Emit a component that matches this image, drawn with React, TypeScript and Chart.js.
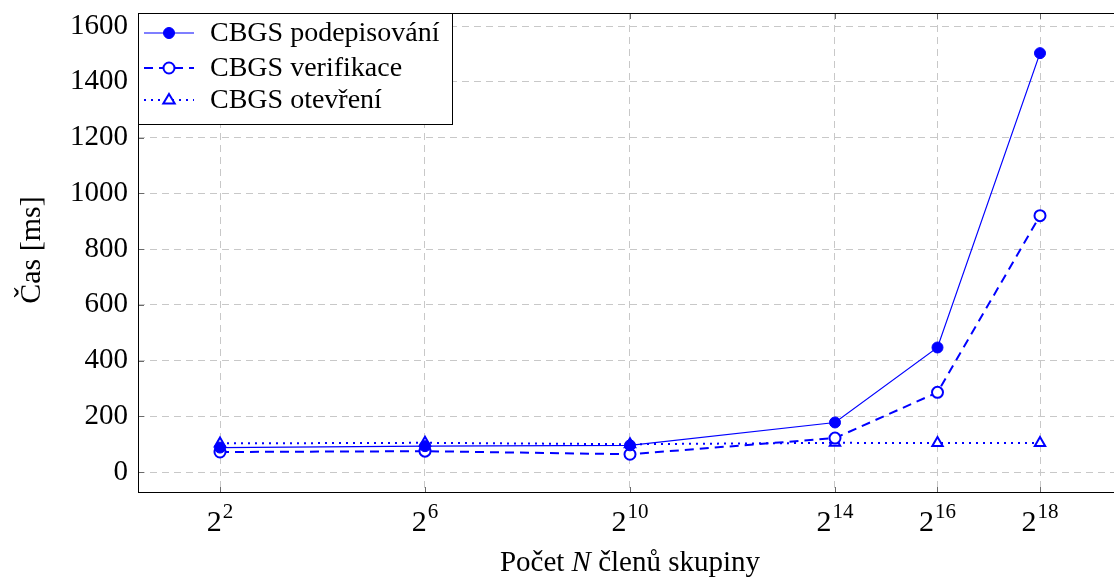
import React, { useEffect, useRef } from "react";
import { Chart, registerables } from "chart.js";

Chart.register(...registerables);

// Data
const xExponents = [2, 6, 10, 14, 16, 18];
const signValues = [88, 93, 96, 178, 447, 1503];
const verifyValues = [72, 75, 64, 122, 286, 920];
const openValues = [103, 105, 100, 105, 104, 104];
const yTicks = [0, 200, 400, 600, 800, 1000, 1200, 1400, 1600];
const seriesNames = ["CBGS podepisování", "CBGS verifikace", "CBGS otevření"];
const xTitleParts = ["Počet ", "N", " členů skupiny"];
const yTitle = "Čas [ms]";

const FONT = "'Liberation Serif', 'DejaVu Serif', serif";
const BLUE = "#0000ff";

const toPts = (vals: number[]) => vals.map((v, i) => ({ x: xExponents[i], y: v }));

const customPlugin = {
  id: "custom",
  afterDraw(chart: any) {
    const { ctx, chartArea } = chart;
    const { left, right, top, bottom } = chartArea;
    const xs = chart.scales.x;
    const ys = chart.scales.y;
    ctx.save();
    // tick marks
    ctx.strokeStyle = "#6a6a6a";
    ctx.lineWidth = 1;
    ctx.setLineDash([]);
    xExponents.forEach((e) => {
      const px = Math.round(xs.getPixelForValue(e)) + 0.5;
      ctx.beginPath();
      ctx.moveTo(px, bottom);
      ctx.lineTo(px, bottom - 6);
      ctx.moveTo(px, top);
      ctx.lineTo(px, top + 6);
      ctx.stroke();
    });
    yTicks.forEach((t) => {
      const py = Math.round(ys.getPixelForValue(t)) + 0.5;
      ctx.beginPath();
      ctx.moveTo(left, py);
      ctx.lineTo(left + 6, py);
      ctx.moveTo(right, py);
      ctx.lineTo(right - 6, py);
      ctx.stroke();
    });
    // box
    ctx.strokeStyle = "#000";
    ctx.strokeRect(left + 0.5, top + 0.5, right - left - 1, bottom - top - 1);

    // x tick labels 2^n
    ctx.fillStyle = "#000";
    ctx.textBaseline = "alphabetic";
    ctx.textAlign = "left";
    xExponents.forEach((e) => {
      const px = xs.getPixelForValue(e);
      ctx.font = `30px ${FONT}`;
      const bw = ctx.measureText("2").width;
      ctx.font = `21px ${FONT}`;
      const sw = ctx.measureText(String(e)).width;
      const x0 = px - (bw + sw + 1) / 2;
      ctx.font = `30px ${FONT}`;
      ctx.fillText("2", x0, 531);
      ctx.font = `21px ${FONT}`;
      ctx.fillText(String(e), x0 + bw + 1, 518);
    });

    // x title
    const fonts = [`29px ${FONT}`, `italic 29px ${FONT}`, `29px ${FONT}`];
    let total = 0;
    const widths = xTitleParts.map((p, i) => {
      ctx.font = fonts[i];
      const w = ctx.measureText(p).width;
      total += w;
      return w;
    });
    let cx = 630 - total / 2;
    xTitleParts.forEach((p, i) => {
      ctx.font = fonts[i];
      ctx.fillText(p, cx, 571);
      cx += widths[i];
    });

    // y title
    ctx.save();
    ctx.translate(40, 250);
    ctx.rotate(-Math.PI / 2);
    ctx.font = `30px ${FONT}`;
    ctx.textAlign = "center";
    ctx.fillText(yTitle, 0, 0);
    ctx.restore();

    // legend
    const lx = left, ly = top, lw = 314, lh = 111;
    ctx.fillStyle = "#fff";
    ctx.fillRect(lx, ly, lw, lh);
    ctx.strokeStyle = "#000";
    ctx.lineWidth = 1;
    ctx.strokeRect(lx + 0.5, ly + 0.5, lw, lh);
    const rows = [20, 55, 87];
    chart.data.datasets.forEach((ds: any, i: number) => {
      const ry = ly + rows[i];
      ctx.strokeStyle = ds.borderColor;
      ctx.lineWidth = ds.borderWidth;
      ctx.setLineDash(ds.borderDash || []);
      ctx.beginPath();
      ctx.moveTo(lx + 6, ry);
      ctx.lineTo(lx + 56, ry);
      ctx.stroke();
      ctx.setLineDash([]);
      const mx = lx + 31;
      ctx.lineWidth = ds.pointBorderWidth;
      ctx.fillStyle = ds.pointBackgroundColor;
      ctx.strokeStyle = ds.pointBorderColor;
      ctx.beginPath();
      if (ds.pointStyle === "triangle") {
        const r = ds.pointRadius;
        ctx.moveTo(mx, ry - r);
        ctx.lineTo(mx + r * 0.95, ry + r * 0.6);
        ctx.lineTo(mx - r * 0.95, ry + r * 0.6);
        ctx.closePath();
      } else {
        ctx.arc(mx, ry, ds.pointRadius, 0, Math.PI * 2);
      }
      ctx.fill();
      ctx.stroke();
      ctx.fillStyle = "#000";
      ctx.font = `28px ${FONT}`;
      ctx.textBaseline = "middle";
      ctx.textAlign = "left";
      ctx.fillText(ds.label, lx + 72, ry + 1);
    });
    ctx.restore();
  },
};

export default function App() {
  const ref = useRef<HTMLCanvasElement>(null);
  useEffect(() => {
    if (!ref.current) return;
    const chart = new Chart(ref.current, {
      type: "line",
      data: {
        datasets: [
          {
            label: seriesNames[0],
            data: toPts(signValues),
            borderColor: BLUE,
            borderWidth: 1.2,
            pointStyle: "circle",
            pointRadius: 5.5,
            pointBackgroundColor: BLUE,
            pointBorderColor: BLUE,
            pointBorderWidth: 1,
          },
          {
            label: seriesNames[1],
            data: toPts(verifyValues),
            borderColor: BLUE,
            borderWidth: 2,
            borderDash: [9, 6],
            pointStyle: "circle",
            pointRadius: 5.5,
            pointBackgroundColor: "#fff",
            pointBorderColor: BLUE,
            pointBorderWidth: 2,
          },
          {
            label: seriesNames[2],
            data: toPts(openValues),
            borderColor: BLUE,
            borderWidth: 2,
            borderDash: [2, 5],
            pointStyle: "triangle",
            pointRadius: 6,
            pointBackgroundColor: "#fff",
            pointBorderColor: BLUE,
            pointBorderWidth: 2,
          },
        ] as any,
      },
      options: {
        animation: false,
        responsive: true,
        maintainAspectRatio: false,
        layout: { padding: { top: 13, right: 8, left: 0, bottom: 0 } },
        plugins: { legend: { display: false }, tooltip: { enabled: false } },
        elements: { line: { tension: 0 } },
        scales: {
          x: {
            type: "linear",
            min: 0.4,
            max: 19.6,
            afterBuildTicks: (s: any) => {
              s.ticks = xExponents.map((v) => ({ value: v }));
            },
            afterFit: (s: any) => {
              s.height = 84;
              s.paddingLeft = 0;
              s.paddingRight = 0;
            },
            ticks: { display: false },
            grid: { color: "#c8c8c8", lineWidth: 1, drawTicks: false },
            border: { display: false, dash: [7, 5] },
          },
          y: {
            type: "linear",
            min: -75,
            max: 1647,
            afterBuildTicks: (s: any) => {
              s.ticks = yTicks.map((v) => ({ value: v }));
            },
            afterFit: (s: any) => {
              s.width = 138;
              s.paddingTop = 0;
              s.paddingBottom = 0;
            },
            ticks: {
              color: "#000",
              font: { family: FONT, size: 29 },
              padding: 10,
              callback: (v: any) => String(v),
            },
            grid: { color: "#c8c8c8", lineWidth: 1, drawTicks: false },
            border: { display: false, dash: [7, 5] },
          },
        },
      },
      plugins: [customPlugin],
    });
    return () => chart.destroy();
  }, []);
  return (
    <div style={{ position: "fixed", left: 0, top: 0, width: 1114, height: 577, overflow: "hidden", background: "#fff" }}>
      <div style={{ position: "relative", width: 1130, height: 577 }}>
        <canvas ref={ref} />
      </div>
    </div>
  );
}
